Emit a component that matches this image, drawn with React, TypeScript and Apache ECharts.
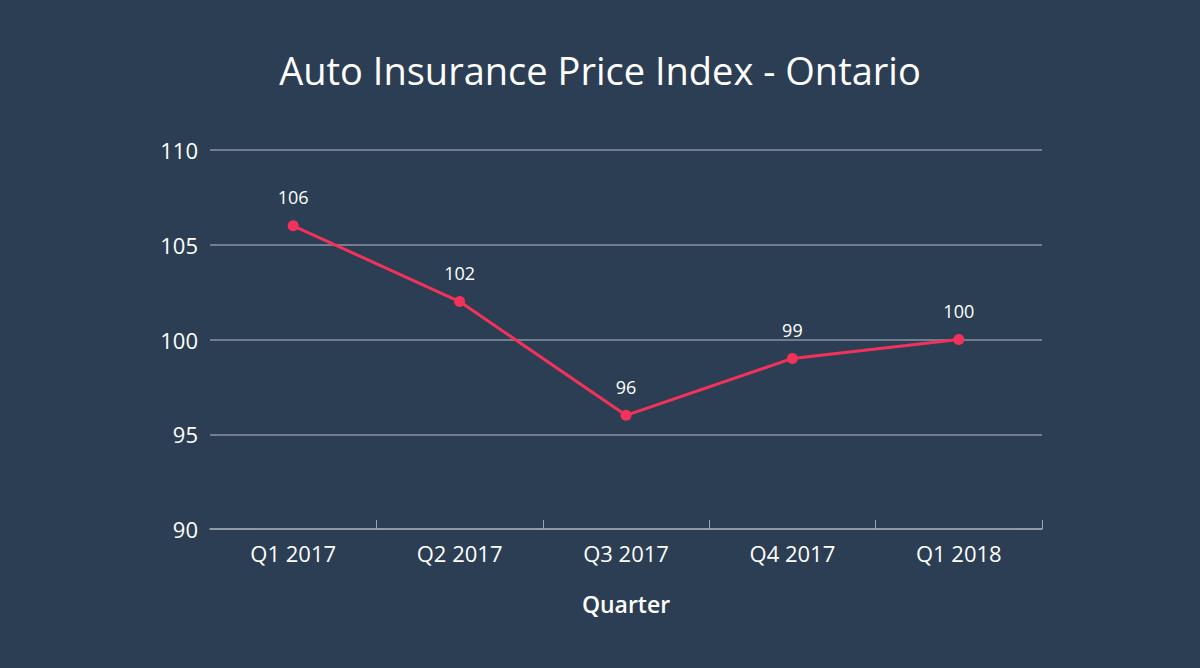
import React, { useEffect, useRef } from "react";
import * as echarts from "echarts";

const categories = ["Q1 2017", "Q2 2017", "Q3 2017", "Q4 2017", "Q1 2018"];
const values = [106, 102, 96, 99, 100];
const titleText = "Auto Insurance Price Index - Ontario";
const xAxisName = "Quarter";

const FONT = "'Open Sans', 'Noto Sans', sans-serif";

export default function App() {
  const ref = useRef<HTMLDivElement>(null);
  useEffect(() => {
    if (!ref.current) return;
    const chart = echarts.init(ref.current, null, { renderer: "svg" });
    chart.setOption({
      animation: false,
      backgroundColor: "#2c3e53",
      textStyle: { fontFamily: FONT },
      title: {
        text: titleText,
        left: "center",
        top: 46,
        textStyle: { color: "#ffffff", fontSize: 38, fontWeight: "normal", fontFamily: FONT },
      },
      grid: { left: 210, right: 158, top: 150, bottom: 139 },
      xAxis: {
        type: "category",
        data: categories,
        boundaryGap: true,
        name: xAxisName,
        nameLocation: "middle",
        nameGap: 63,
        nameTextStyle: { color: "#ffffff", fontSize: 23, fontWeight: 600, fontFamily: FONT },
        axisLine: { lineStyle: { color: "#9aa3ae", width: 1.5 } },
        axisTick: {
          show: true,
          inside: true,
          length: 9,
          interval: (i: number) => i !== 0,
          lineStyle: { color: "#9aa3ae" },
        },
        axisLabel: { color: "#ffffff", fontSize: 22, margin: 13, fontFamily: FONT },
      },
      yAxis: {
        type: "value",
        min: 90,
        max: 110,
        interval: 5,
        axisLine: { show: false },
        axisTick: { show: false },
        axisLabel: { color: "#ffffff", fontSize: 22, margin: 12, fontFamily: FONT },
        splitLine: { lineStyle: { color: "#8a95a3", width: 1.5 } },
      },
      series: [
        {
          type: "line",
          data: values,
          symbol: "circle",
          symbolSize: 11,
          itemStyle: { color: "#f2325b" },
          lineStyle: { color: "#f2325b", width: 3 },
          label: {
            show: true,
            position: "top",
            distance: 14,
            color: "#ffffff",
            fontSize: 18,
            fontFamily: FONT,
          },
        },
      ],
    });
    return () => chart.dispose();
  }, []);
  return (
    <div
      ref={ref}
      style={{ position: "absolute", left: 0, top: 0, width: 1200, height: 668 }}
    />
  );
}
